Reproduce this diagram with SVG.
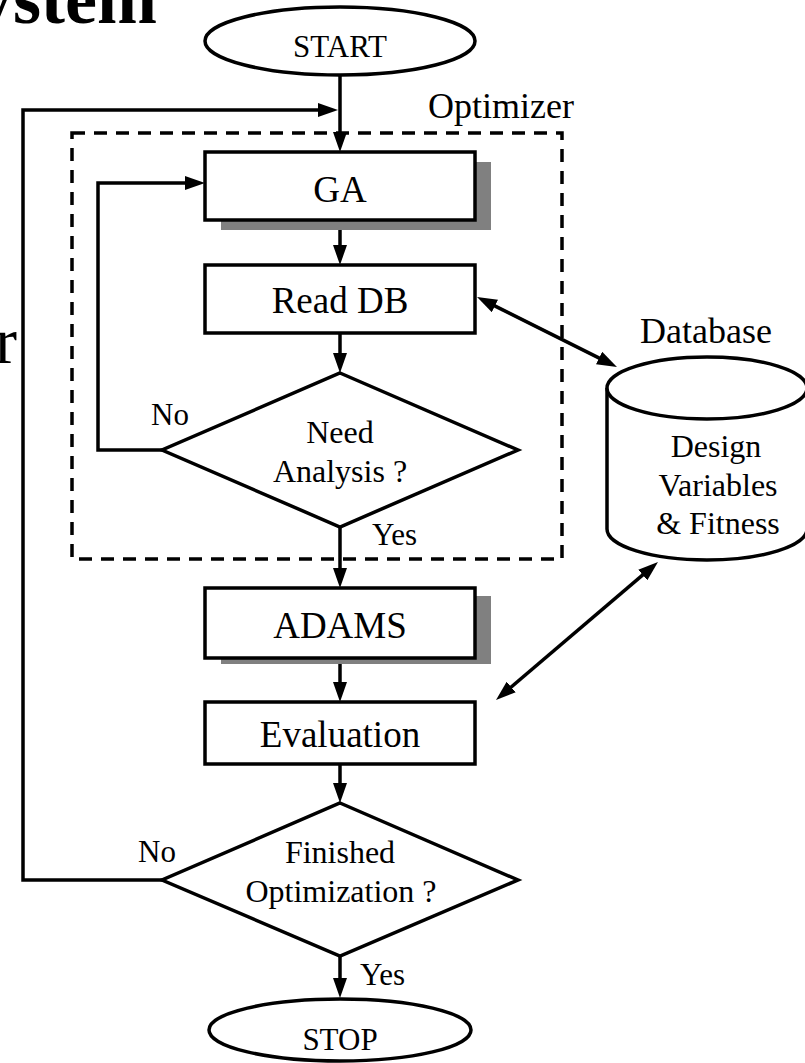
<svg xmlns="http://www.w3.org/2000/svg" width="805" height="1063" viewBox="0 0 805 1063">
<style>
text{font-family:"Liberation Serif","Times New Roman",serif;fill:#000}
.c{text-anchor:middle}
.box{fill:#fff;stroke:#000;stroke-width:3.5}
.sh{fill:#808080}
.shape{fill:#fff;stroke:#000;stroke-width:3.5}
.ln{fill:none;stroke:#000;stroke-width:3.5}
.dash{fill:none;stroke:#000;stroke-width:3.5;stroke-dasharray:13 9}
.lbl{font-size:37px}
.dt{font-size:32px}
.yn{font-size:31px}
</style>
<defs>
<marker id="ah" viewBox="0 0 20 14" refX="12" refY="7" markerWidth="20" markerHeight="14" markerUnits="userSpaceOnUse" orient="auto-start-reverse">
<path d="M0,0 L20,7 L0,14 z" fill="#000"/>
</marker>
</defs>
<rect width="805" height="1063" fill="#fff"/>
<text x="-23" y="23" style="font-size:72px;font-weight:bold">ystem</text>
<text x="17" y="363" style="font-size:66px;text-anchor:end">r</text>

<g id="optimizer">
<rect class="dash" x="72" y="133" width="490" height="426"/>
<text x="428" y="118" style="font-size:36px">Optimizer</text>
</g>

<g id="connectors">
<path class="ln" d="M340,76 V144" marker-end="url(#ah)"/>
<path class="ln" d="M162,880 H23 V110 H330" marker-end="url(#ah)"/>
<path class="ln" d="M162,450 H98 V183 H197" marker-end="url(#ah)"/>
<path class="ln" d="M340,220 V257" marker-end="url(#ah)"/>
<path class="ln" d="M340,333 V365" marker-end="url(#ah)"/>
<path class="ln" d="M340,527 V580" marker-end="url(#ah)"/>
<path class="ln" d="M340,658 V694" marker-end="url(#ah)"/>
<path class="ln" d="M340,764 V795" marker-end="url(#ah)"/>
<path class="ln" d="M340,956 V990" marker-end="url(#ah)"/>
<path class="ln" d="M484.2,300.6 L609.8,363.4" marker-start="url(#ah)" marker-end="url(#ah)"/>
<path class="ln" d="M502.1,694.8 L651.9,567.2" marker-start="url(#ah)" marker-end="url(#ah)"/>
<text x="151" y="425" class="yn">No</text>
<text x="372" y="545" class="yn">Yes</text>
<text x="138" y="862" class="yn">No</text>
<text x="360" y="985" class="yn">Yes</text>
</g>

<g id="start">
<ellipse class="shape" cx="340" cy="41" rx="135" ry="34"/>
<text x="340" y="57" class="c" style="font-size:31px">START</text>
</g>

<g id="ga">
<rect class="sh" x="221" y="162" width="270" height="68"/>
<rect class="box" x="205" y="152" width="270" height="68"/>
<text x="340" y="202" class="c lbl">GA</text>
</g>

<g id="readdb">
<rect class="box" x="205" y="265" width="270" height="68"/>
<text x="340" y="313" class="c lbl">Read DB</text>
</g>

<g id="need-analysis">
<polygon class="shape" points="340,373 518,450 340,527 162,450"/>
<text x="340" y="443" class="c dt">Need</text>
<text x="340" y="482" class="c dt">Analysis ?</text>
</g>

<g id="adams">
<rect class="sh" x="221" y="596" width="270" height="68"/>
<rect class="box" x="205" y="588" width="270" height="70"/>
<text x="340" y="638" class="c lbl">ADAMS</text>
</g>

<g id="evaluation">
<rect class="box" x="205" y="702" width="270" height="62"/>
<text x="340" y="747" class="c lbl">Evaluation</text>
</g>

<g id="finished">
<polygon class="shape" points="340,803 518,880 340,956 162,880"/>
<text x="340" y="863" class="c dt">Finished</text>
<text x="341" y="902" class="c dt">Optimization ?</text>
</g>

<g id="stop">
<ellipse class="shape" cx="340" cy="1030" rx="131" ry="31"/>
<text x="340" y="1050" class="c" style="font-size:31px">STOP</text>
</g>

<g id="database">
<text x="706" y="343" class="c" style="font-size:36px">Database</text>
<path class="shape" d="M607,388 V529 A100,31 0 0 0 807,529 V388"/>
<ellipse class="shape" cx="707" cy="388" rx="100" ry="31"/>
<text x="716" y="457" class="c dt">Design</text>
<text x="718" y="496" class="c dt">Variables</text>
<text x="718" y="534" class="c dt">&amp; Fitness</text>
</g>
</svg>
